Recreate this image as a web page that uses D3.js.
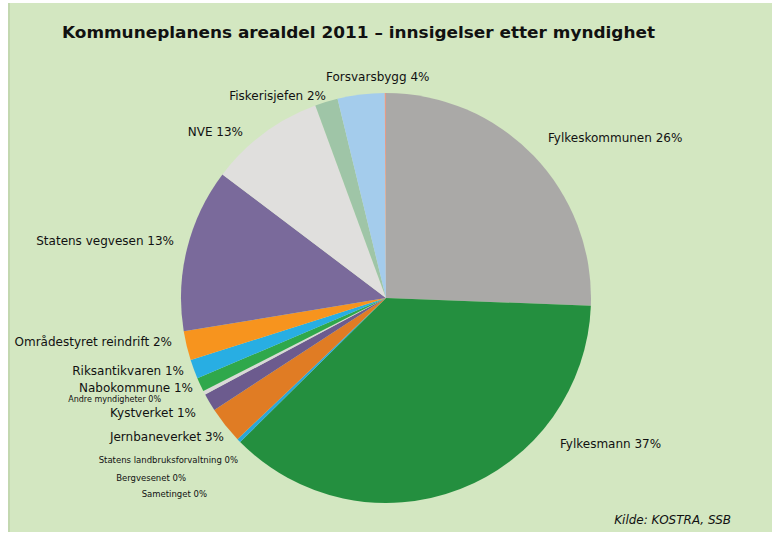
<!DOCTYPE html>
<html><head><meta charset="utf-8">
<script src="https://cdn.jsdelivr.net/npm/d3@7"></script>
<style>body{margin:0;background:#fff}svg{display:block}</style>
</head><body>
<svg id="c" width="784" height="546"></svg>
<script>
// Data (clockwise from 12 o'clock)
const categories = ["Fylkeskommunen","Fylkesmann","Sametinget","Bergvesenet","Statens landbruksforvaltning","Jernbaneverket","Kystverket","Andre myndigheter","Nabokommune","Riksantikvaren","Områdestyret reindrift","Statens vegvesen","NVE","Fiskerisjefen","Forsvarsbygg","Øvrige"];
const shares = [25.6,37.0,0,0,0.3,2.9,1.4,0.3,1.1,1.5,2.3,12.9,9.1,1.8,3.7,0.1];
const pctLabels = ["26%","37%","0%","0%","0%","3%","1%","0%","1%","1%","2%","13%","13%","2%","4%",""];
const colors = ["#aaa9a7","#248f3f","#2d9fd0","#2d9fd0","#2aa6d8","#e07c24","#6c5b8e","#d9d9d7","#2fa84b","#28aee3","#f7941e","#7a6a9b","#e0dfdd","#9fc5a7","#a4ccec","#e59a88"];

// Layout (label anchor points, text-anchor, size)
const labelLayout = {
  "Fylkeskommunen":[548,142,"start",12],
  "Fylkesmann":[560,448,"start",12],
  "Sametinget":[207,497,"end",8.5],
  "Bergvesenet":[186,481,"end",8.5],
  "Statens landbruksforvaltning":[238,463,"end",8.5],
  "Jernbaneverket":[224,441,"end",12],
  "Kystverket":[196,417,"end",12],
  "Andre myndigheter":[161,402,"end",8],
  "Nabokommune":[193,392,"end",12],
  "Riksantikvaren":[184,375,"end",12],
  "Områdestyret reindrift":[172,346,"end",12],
  "Statens vegvesen":[174,245,"end",12],
  "NVE":[243,136,"end",12],
  "Fiskerisjefen":[326,100,"end",12],
  "Forsvarsbygg":[326,81,"start",12]
};

const svg = d3.select("#c");
svg.append("rect").attr("x",8).attr("y",3).attr("width",764).attr("height",529).attr("fill","#d3e7c1");
svg.append("line").attr("x1",9).attr("x2",9).attr("y1",3).attr("y2",532).attr("stroke","#c3d8b0").attr("stroke-width",2);

svg.append("text").attr("x",62).attr("y",38).attr("font-family","DejaVu Sans, Verdana, sans-serif")
  .attr("font-weight","bold").attr("font-size",16.5).attr("fill","#111")
  .attr("textLength",593).attr("lengthAdjust","spacingAndGlyphs")
  .text("Kommuneplanens arealdel 2011 – innsigelser etter myndighet");

const data = categories.map((c,i)=>({name:c,value:shares[i],pct:pctLabels[i],color:colors[i]}));
const pie = d3.pie().value(d=>d.value).sort(null);
const arc = d3.arc().innerRadius(0).outerRadius(205);
const g = svg.append("g").attr("transform","translate(386,298)");
g.selectAll("path").data(pie(data)).join("path").attr("d",arc).attr("fill",d=>d.data.color);

svg.append("g").selectAll("text").data(data.filter(d=>labelLayout[d.name])).join("text")
  .attr("x",d=>labelLayout[d.name][0]).attr("y",d=>labelLayout[d.name][1])
  .attr("text-anchor",d=>labelLayout[d.name][2]).attr("font-size",d=>labelLayout[d.name][3])
  .attr("font-family","DejaVu Sans, Verdana, sans-serif").attr("fill","#111")
  .text(d=>d.name+" "+d.pct);

svg.append("text").attr("x",731).attr("y",524).attr("text-anchor","end")
  .attr("font-family","DejaVu Sans, Verdana, sans-serif").attr("font-style","italic").attr("font-size",12).attr("fill","#111")
  .text("Kilde: KOSTRA, SSB");
</script>
</body></html>
